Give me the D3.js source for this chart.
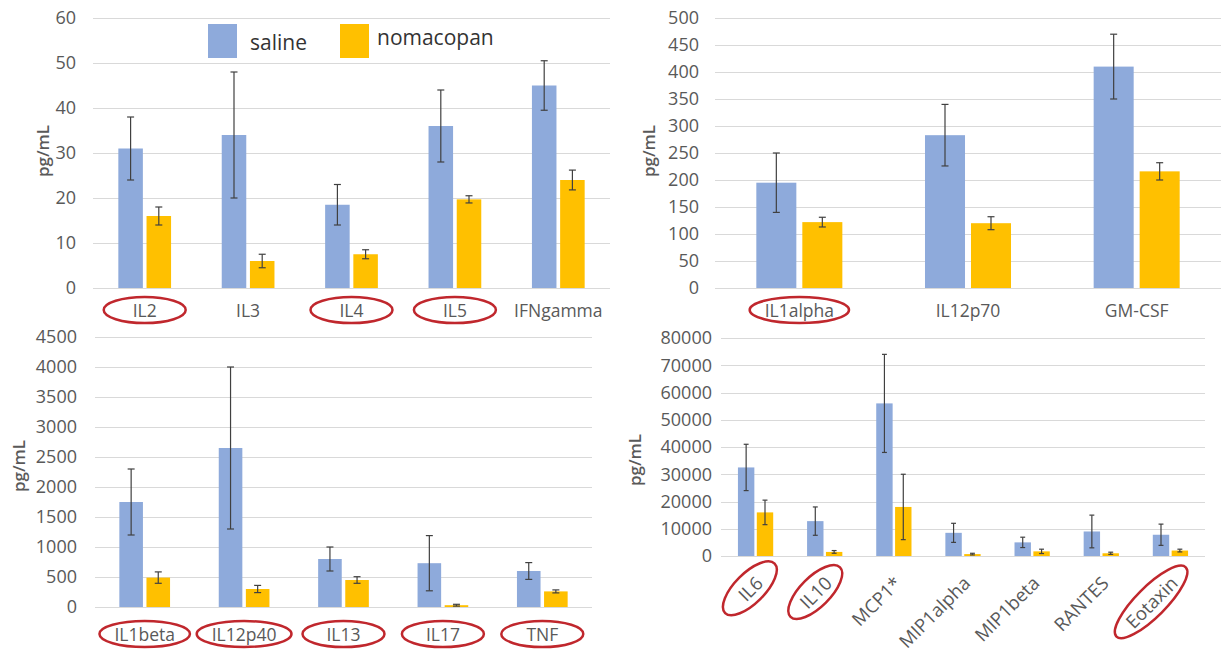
<!DOCTYPE html>
<html lang="en">
<head>
    <meta charset="UTF-8">
    <title>Cytokines saline vs nomacopan</title>
    <style>
        body { margin: 0; background: #fff; }
        svg { display: block; font-family: "Open Sans", sans-serif; }
        .grid line { stroke: #d9d9d9; stroke-width: 1px; }
        .tick-label { fill: #595959; font-size: 18px; }
        .cat-label { fill: #595959; font-size: 17.5px; }
        .cat-label.rot { font-size: 18.5px; }
        .y-title { fill: #595959; font-size: 17px; font-weight: 600; }
        .err { stroke: #404040; stroke-width: 1.2px; }
        .circle-mark { fill: none; stroke: #c0272d; stroke-width: 2.5px; }
    </style>
</head>
<body>
<div id="chart"></div>
<script src="https://d3js.org/d3.v7.min.js"></script>
<script>
// series
const series = ['saline', 'nomacopan'];
const colors = ['#8eaadb', '#ffc000'];

// panel A: top left
const catsA = ['IL2', 'IL3', 'IL4', 'IL5', 'IFNgamma'];
const salineA = [31, 34, 18.5, 36, 45];
const salineErrA = [7, 14, 4.5, 8, 5.5];
const nomaA = [16, 6, 7.5, 19.7, 24];
const nomaErrA = [2, 1.5, 1, 0.8, 2.2];
const ticksA = [0, 10, 20, 30, 40, 50, 60];
const circledA = ['IL2', 'IL4', 'IL5'];

// panel B: top right
const catsB = ['IL1alpha', 'IL12p70', 'GM-CSF'];
const salineB = [195, 283, 410];
const salineErrB = [55, 57, 60];
const nomaB = [122, 120, 216];
const nomaErrB = [9, 12, 16];
const ticksB = [0, 50, 100, 150, 200, 250, 300, 350, 400, 450, 500];
const circledB = ['IL1alpha'];

// panel C: bottom left
const catsC = ['IL1beta', 'IL12p40', 'IL13', 'IL17', 'TNF'];
const salineC = [1750, 2650, 800, 730, 600];
const salineErrC = [550, 1350, 200, 460, 140];
const nomaC = [490, 300, 450, 30, 260];
const nomaErrC = [95, 60, 55, 15, 25];
const ticksC = [0, 500, 1000, 1500, 2000, 2500, 3000, 3500, 4000, 4500];
const circledC = ['IL1beta', 'IL12p40', 'IL13', 'IL17', 'TNF'];

// panel D: bottom right
const catsD = ['IL6', 'IL10', 'MCP1*', 'MIP1alpha', 'MIP1beta', 'RANTES', 'Eotaxin'];
const salineD = [32500, 12800, 56000, 8500, 5000, 9000, 7800];
const salineErrD = [8500, 5200, 18000, 3500, 1900, 6000, 3900];
const nomaD = [16000, 1500, 18000, 700, 1700, 1000, 2000];
const nomaErrD = [4500, 500, 12000, 300, 800, 400, 500];
const ticksD = [0, 10000, 20000, 30000, 40000, 50000, 60000, 70000, 80000];
const circledD = ['IL6', 'IL10', 'Eotaxin'];

const W = 1221, H = 656;
const svg = d3.select('#chart').append('svg').attr('width', W).attr('height', H);

function drawPanel(p) {
    const g = svg.append('g');
    const y = d3.scaleLinear().domain([0, d3.max(p.ticks)]).range([p.y0, p.y1]);
    const x0 = d3.scaleBand().domain(p.cats).range([p.x0, p.x1])
        .paddingInner(0.49).paddingOuter(0.245);
    const x1 = d3.scaleBand().domain(series).range([0, x0.bandwidth()]).paddingInner(0.13);

    // gridlines
    g.append('g').attr('class', 'grid').selectAll('line')
        .data(p.ticks).enter().append('line')
        .attr('x1', p.x0).attr('x2', p.x1)
        .attr('y1', d => Math.round(y(d)) + 0.5).attr('y2', d => Math.round(y(d)) + 0.5);

    // tick labels
    g.selectAll('.tick-label').data(p.ticks).enter().append('text')
        .attr('class', 'tick-label')
        .attr('x', p.tickX).attr('y', d => y(d)).attr('dy', '0.35em')
        .attr('text-anchor', 'end')
        .text(d => d);

    // y title
    g.append('text').attr('class', 'y-title')
        .attr('transform', `translate(${p.titleX},${p.titleY}) rotate(-90)`)
        .attr('text-anchor', 'middle').attr('dy', '0.35em')
        .text('pg/mL');

    const rows = p.cats.map((c, i) => ({
        cat: c,
        vals: [
            { s: 'saline', v: p.saline[i], e: p.salineErr[i] },
            { s: 'nomacopan', v: p.noma[i], e: p.nomaErr[i] }
        ]
    }));

    const grp = g.selectAll('.grp').data(rows).enter().append('g')
        .attr('transform', d => `translate(${x0(d.cat)},0)`);

    grp.selectAll('rect').data(d => d.vals).enter().append('rect')
        .attr('x', d => x1(d.s))
        .attr('width', x1.bandwidth())
        .attr('y', d => y(d.v))
        .attr('height', d => y(0) - y(d.v))
        .attr('fill', (d, i) => colors[i]);

    const cap = Math.min(7, x1.bandwidth() * 0.3);
    const eb = grp.selectAll('.eb').data(d => d.vals).enter().append('g')
        .attr('class', 'err');
    eb.append('line')
        .attr('x1', d => x1(d.s) + x1.bandwidth() / 2).attr('x2', d => x1(d.s) + x1.bandwidth() / 2)
        .attr('y1', d => y(d.v - d.e)).attr('y2', d => y(d.v + d.e));
    [-1, 1].forEach(sgn => {
        eb.append('line')
            .attr('x1', d => x1(d.s) + x1.bandwidth() / 2 - cap / 2)
            .attr('x2', d => x1(d.s) + x1.bandwidth() / 2 + cap / 2)
            .attr('y1', d => y(d.v + sgn * d.e)).attr('y2', d => y(d.v + sgn * d.e));
    });

    // category labels, with red ellipses round some of them
    p.cats.forEach(c => {
        const cx = x0(c) + x0.bandwidth() / 2;
        const lg = g.append('g');
        if (p.rotate) {
            lg.attr('transform', `translate(${cx + 4},${p.labelY}) rotate(-45)`);
        } else {
            lg.attr('transform', `translate(${cx},${p.labelY})`);
        }
        const t = lg.append('text').attr('class', p.rotate ? 'cat-label rot' : 'cat-label')
            .attr('text-anchor', p.rotate ? 'end' : 'middle')
            .attr('dy', '0.35em')
            .text(c);
        if (p.circled.includes(c)) {
            const w = t.node().getComputedTextLength();
            const ecx = p.rotate ? -w / 2 : 0;
            const rx = p.rotate ? Math.max(35, w / 2 + 17) : Math.max(41, w / 2 + 15);
            lg.append('ellipse').attr('class', 'circle-mark')
                .attr('cx', ecx).attr('cy', -1)
                .attr('rx', rx).attr('ry', p.rotate ? 15 : 13);
        }
    });
}

drawPanel({ cats: catsA, saline: salineA, salineErr: salineErrA, noma: nomaA, nomaErr: nomaErrA,
    ticks: ticksA, circled: circledA, x0: 93, x1: 610, y0: 288, y1: 18, tickX: 76,
    titleX: 43, titleY: 151, labelY: 311, rotate: false });
drawPanel({ cats: catsB, saline: salineB, salineErr: salineErrB, noma: nomaB, nomaErr: nomaErrB,
    ticks: ticksB, circled: circledB, x0: 715, x1: 1221, y0: 288, y1: 18, tickX: 699,
    titleX: 649, titleY: 151, labelY: 311, rotate: false });
drawPanel({ cats: catsC, saline: salineC, salineErr: salineErrC, noma: nomaC, nomaErr: nomaErrC,
    ticks: ticksC, circled: circledC, x0: 95, x1: 592, y0: 607, y1: 337, tickX: 77,
    titleX: 19, titleY: 466, labelY: 635, rotate: false });
drawPanel({ cats: catsD, saline: salineD, salineErr: salineErrD, noma: nomaD, nomaErr: nomaErrD,
    ticks: ticksD, circled: circledD, x0: 721, x1: 1205, y0: 556, y1: 338, tickX: 712,
    titleX: 635, titleY: 460, labelY: 580, rotate: true });

// legend in the first panel
const legend = svg.append('g');
const legendX = [208, 340];
const legendTextX = [250, 377];
series.forEach((s, i) => {
    legend.append('rect').attr('x', legendX[i]).attr('y', 24)
        .attr('width', 29).attr('height', 34).attr('fill', colors[i]);
    legend.append('text').attr('x', legendTextX[i]).attr('y', i === 0 ? 50 : 45)
        .attr('fill', '#333').style('font-size', '21px')
        .text(s);
});
</script>
</body>
</html>
